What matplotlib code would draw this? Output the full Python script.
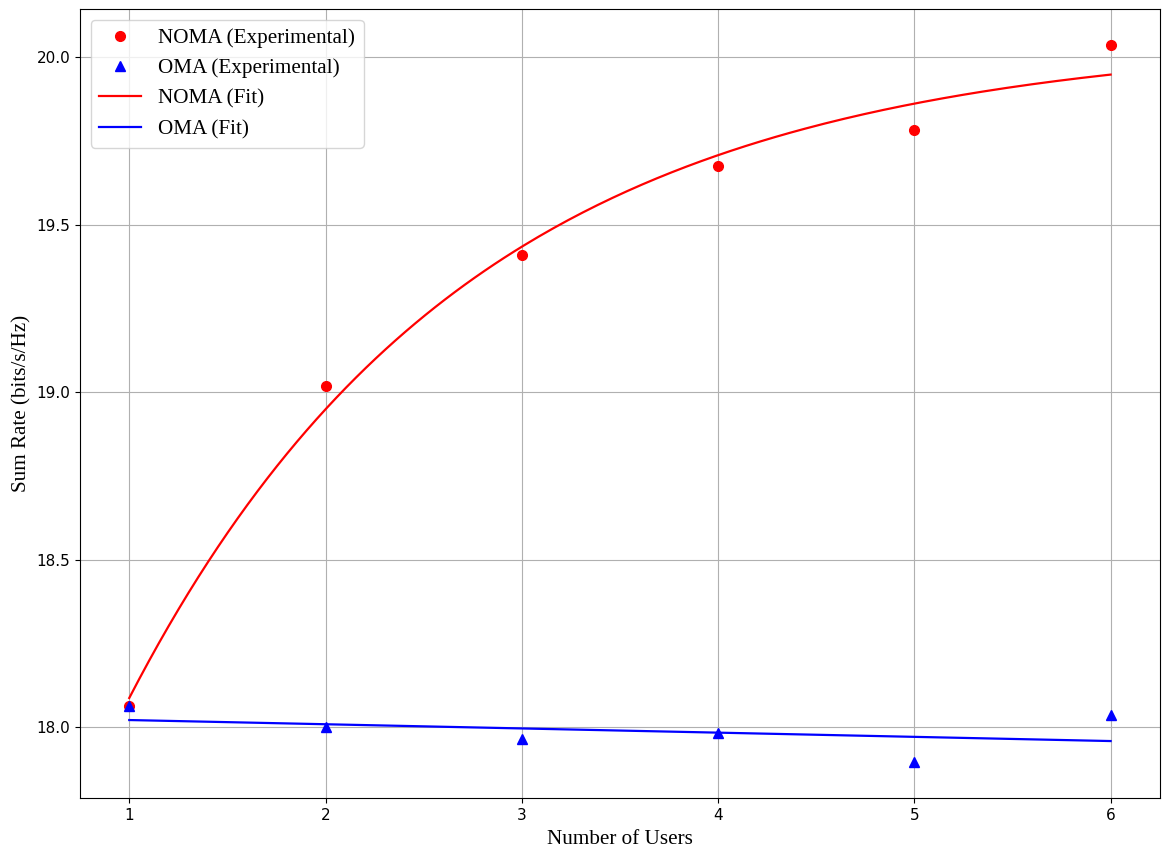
import numpy as np
import matplotlib
matplotlib.use('Agg')
import matplotlib.pyplot as plt

users = np.array([1, 2, 3, 4, 5, 6])
noma_rate = np.array([18.065, 19.018, 19.411, 19.676, 19.783, 20.036])
oma_rate = np.array([18.065, 18.000, 17.964, 17.982, 17.896, 18.036])


def fit_saturating(x, y):
    # y = a - b * exp(-c x)，对 c 做网格搜索，a、b 用最小二乘
    best = None
    for c in np.linspace(0.05, 3.0, 3000):
        A = np.column_stack([np.ones_like(x, dtype=float), -np.exp(-c * x)])
        coef, res, _, _ = np.linalg.lstsq(A, y, rcond=None)
        err = np.sum((A @ coef - y) ** 2)
        if best is None or err < best[0]:
            best = (err, coef[0], coef[1], c)
    return best[1:]


a, b, c = fit_saturating(users.astype(float), noma_rate)
oma_coef = np.polyfit(users, oma_rate, 1)

x_fit = np.linspace(users.min(), users.max(), 200)
noma_fit = a - b * np.exp(-c * x_fit)
oma_fit = np.polyval(oma_coef, x_fit)

fig = plt.figure(figsize=(11.62, 8.49), dpi=100)
ax = fig.add_subplot(111)
fig.subplots_adjust(left=0.069, right=0.998, top=0.989, bottom=0.06)

ax.plot(users, noma_rate, 'ro', markersize=7, label='NOMA (Experimental)')
ax.plot(users, oma_rate, 'b^', markersize=7, label='OMA (Experimental)')
ax.plot(x_fit, noma_fit, 'r-', linewidth=1.6, label='NOMA (Fit)')
ax.plot(x_fit, oma_fit, 'b-', linewidth=1.6, label='OMA (Fit)')

serif = {'family': 'Liberation Serif', 'size': 15.2}
ax.set_xlabel('Number of Users', fontdict=serif, labelpad=5)
ax.set_ylabel('Sum Rate (bits/s/Hz)', fontdict=serif)
ax.tick_params(labelsize=11)
ax.grid(True)
ax.legend(loc='upper left', prop={'family': 'Liberation Serif', 'size': 15.2})

plt.savefig('out.png', dpi=100)
